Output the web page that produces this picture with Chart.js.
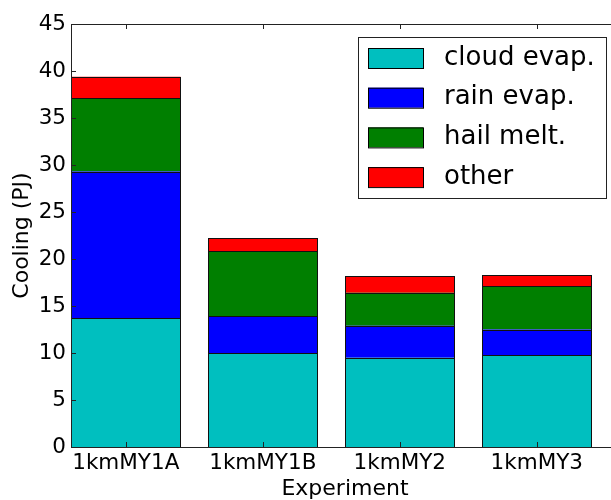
<!DOCTYPE html>
<html>
<head>
<meta charset="utf-8">
<script src="https://cdn.jsdelivr.net/npm/chart.js@4.4.1/dist/chart.umd.min.js"></script>
<style>
  html, body { margin: 0; padding: 0; background: #fff; overflow: hidden; }
  #wrap { width: 625px; height: 500px; }
</style>
</head>
<body>
<div id="wrap"><canvas id="coolingChart" width="625" height="500"></canvas></div>
<script>
// data
const experiments = ['1kmMY1A', '1kmMY1B', '1kmMY2', '1kmMY3'];
const cloudEvap = [13.7, 10.0, 9.5, 9.8];
const rainEvap = [15.6, 3.9, 3.4, 2.7];
const hailMelt = [7.8, 6.95, 3.5, 4.6];
const other = [2.3, 1.35, 1.8, 1.2];
const yTicks = [0, 5, 10, 15, 20, 25, 30, 35, 40, 45];

const FONT = "'DejaVu Sans', sans-serif";

function toPoints(vals) {
  return vals.map((v, i) => ({ x: i, y: v }));
}

// crisp single-pixel outlines on the bar elements (shared edges drawn once)
const outlinePlugin = {
  id: 'outline',
  afterDatasetsDraw(chart) {
    const ctx = chart.ctx;
    ctx.save();
    ctx.strokeStyle = '#111';
    ctx.lineWidth = 1;
    chart.data.datasets.forEach((ds, di) => {
      chart.getDatasetMeta(di).data.forEach(bar => {
        const { x, y, base, width } = bar.getProps(['x', 'y', 'base', 'width'], true);
        const l = Math.round(x - width / 2) + 0.5;
        const r = Math.round(x + width / 2) - 0.5;
        const t = Math.round(y) + 0.5;
        const b = Math.round(base) + 0.5;
        ctx.strokeRect(l, t, r - l, b - t);
      });
    });
    ctx.restore();
  }
};

// matplotlib-ish frame, inward ticks and boxed legend inside the plot
const framePlugin = {
  id: 'frame',
  afterDraw(chart) {
    const { ctx, chartArea: a, scales } = chart;
    ctx.save();
    ctx.strokeStyle = '#222';
    ctx.lineWidth = 1;
    ctx.strokeRect(a.left + 0.5, a.top + 0.5, a.right - a.left - 1, a.bottom - a.top);

    ctx.beginPath();
    yTicks.forEach(v => {
      const y = Math.round(scales.y.getPixelForValue(v)) + 0.5;
      ctx.moveTo(a.left, y); ctx.lineTo(a.left + 5, y);
      ctx.moveTo(a.right, y); ctx.lineTo(a.right - 5, y);
    });
    experiments.forEach((c, i) => {
      const x = Math.round(scales.x.getPixelForValue(i)) + 0.5;
      ctx.moveTo(x, a.bottom); ctx.lineTo(x, a.bottom - 5);
      ctx.moveTo(x, a.top); ctx.lineTo(x, a.top + 5);
    });
    ctx.stroke();

    // legend
    const bx = a.left + 287, by = a.top + 13, bw = 248, bh = 161;
    ctx.fillStyle = '#fff';
    ctx.fillRect(bx, by, bw, bh);
    ctx.strokeStyle = '#222';
    ctx.strokeRect(bx + 0.5, by + 0.5, bw, bh);
    ctx.font = '26px ' + FONT;
    ctx.textBaseline = 'middle';
    chart.data.datasets.forEach((ds, i) => {
      const cy = by + 21 + i * 39.7;
      ctx.fillStyle = ds.backgroundColor;
      ctx.fillRect(bx + 10, cy - 10, 55, 20);
      ctx.strokeStyle = '#000';
      ctx.strokeRect(bx + 10.5, cy - 9.5, 55, 20);
      ctx.fillStyle = '#000';
      ctx.fillText(ds.label, bx + 86, cy);
    });
    ctx.restore();
  }
};

new Chart(document.getElementById('coolingChart'), {
  type: 'bar',
  data: {
    datasets: [
      { label: 'cloud evap.', data: toPoints(cloudEvap), backgroundColor: '#00BFBF' },
      { label: 'rain evap.', data: toPoints(rainEvap), backgroundColor: '#0000FF' },
      { label: 'hail melt.', data: toPoints(hailMelt), backgroundColor: '#007F00' },
      { label: 'other', data: toPoints(other), backgroundColor: '#FF0000' }
    ]
  },
  options: {
    responsive: false,
    animation: false,
    devicePixelRatio: 1,
    layout: { padding: { top: 24, right: 6, left: 0, bottom: 0 } },
    datasets: {
      bar: {
        borderWidth: 0,
        categoryPercentage: 1,
        barPercentage: 0.8
      }
    },
    plugins: {
      legend: { display: false },
      tooltip: { enabled: false }
    },
    scales: {
      x: {
        type: 'linear',
        stacked: true,
        offset: false,
        min: -0.4,
        max: 3.6,
        afterBuildTicks: s => { s.ticks = experiments.map((c, i) => ({ value: i })); },
        afterFit: s => { s.height = 53; },
        grid: { display: false, drawTicks: false },
        border: { display: false },
        ticks: {
          color: '#000',
          padding: 4,
          maxRotation: 0,
          font: { family: FONT, size: 21.5 },
          callback: v => experiments[v]
        },
        title: {
          display: true,
          text: 'Experiment',
          color: '#000',
          padding: 0,
          font: { family: FONT, size: 22, lineHeight: 1 }
        }
      },
      y: {
        stacked: true,
        min: 0,
        max: 45,
        afterFit: s => { s.width = 71; },
        grid: { display: false, drawTicks: false },
        border: { display: false },
        ticks: {
          stepSize: 5,
          color: '#000',
          padding: 5,
          font: { family: FONT, size: 21.5 }
        },
        title: {
          display: true,
          text: 'Cooling (PJ)',
          color: '#000',
          padding: { top: 11, bottom: 0 },
          font: { family: FONT, size: 22, lineHeight: 1 }
        }
      }
    }
  },
  plugins: [outlinePlugin, framePlugin]
});
</script>
</body>
</html>
